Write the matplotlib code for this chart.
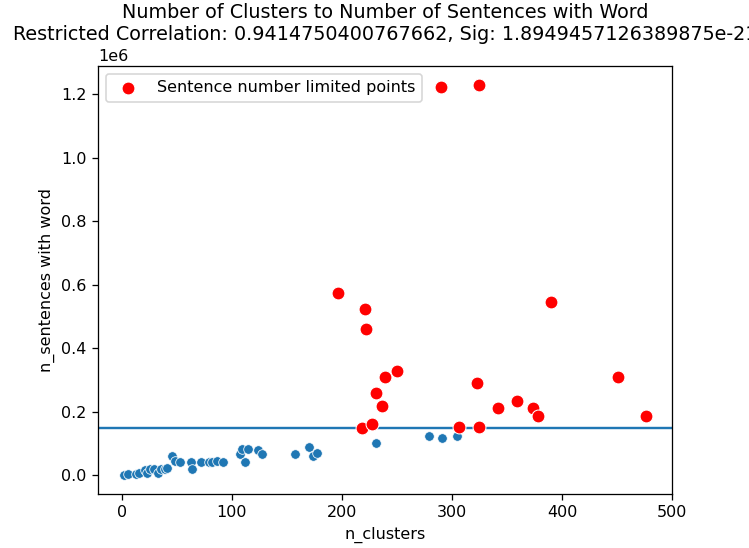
import numpy as np
import matplotlib
matplotlib.use("Agg")
import matplotlib.pyplot as plt
import seaborn as sns

# points under the sentence-count limit
n_clusters = [2, 6, 13, 16, 21, 23, 26, 29, 33, 36, 39, 41, 45.5, 48, 53, 63, 64,
              72, 79, 82, 86.5, 92, 107.5, 109, 115, 112, 124, 127.5, 157.5, 170,
              174, 177.5, 231, 279, 291, 305]
n_sentences = [3000, 6000, 6000, 9000, 16000, 9000, 22000, 19000, 9000, 22000,
               19000, 25000, 60000, 47000, 41000, 41000, 22000, 44000, 41000,
               44000, 47000, 44000, 69000, 82000, 82000, 44000, 79000, 69000,
               69000, 91000, 60000, 72000, 101000, 123000, 117000, 123000]

# points over the limit
limited_clusters = [290, 325, 196, 221, 222, 390, 250.5, 239, 231, 236, 218.5,
                    227, 306, 323, 325, 341.5, 359, 374, 378, 451, 476]
limited_sentences = [1222000, 1228000, 576000, 523000, 460000, 545000, 328000,
                     309000, 261000, 220000, 151000, 161000, 154000, 290000,
                     154000, 214000, 236000, 214000, 186000, 309000, 186000]

limit = 150000

dpi = 115
fig = plt.figure(figsize=(749 / dpi, 548 / dpi), dpi=dpi)
ax = fig.add_axes([98 / 749, (548 - 494) / 548, (672 - 98) / 749, (494 - 66) / 548])

sns.scatterplot(x=n_clusters, y=n_sentences, ax=ax)
ax.axhline(limit, zorder=1.5)
sns.scatterplot(x=limited_clusters, y=limited_sentences, color="red", s=65,
                label="Sentence number limited points", ax=ax, zorder=3)

ax.set_xlabel("n_clusters")
ax.set_ylabel("n_sentences with word")
ax.set_xticks([0, 100, 200, 300, 400, 500])
ax.set_yticks(np.arange(0, 1.21e6, 0.2e6))
ax.set_title("Number of Clusters to Number of Sentences with Word\n"
             "Restricted Correlation: 0.9414750400767662, Sig: 1.8949457126389875e-21")
ax.legend(loc="upper left")

fig.savefig("out.png", dpi=dpi)
